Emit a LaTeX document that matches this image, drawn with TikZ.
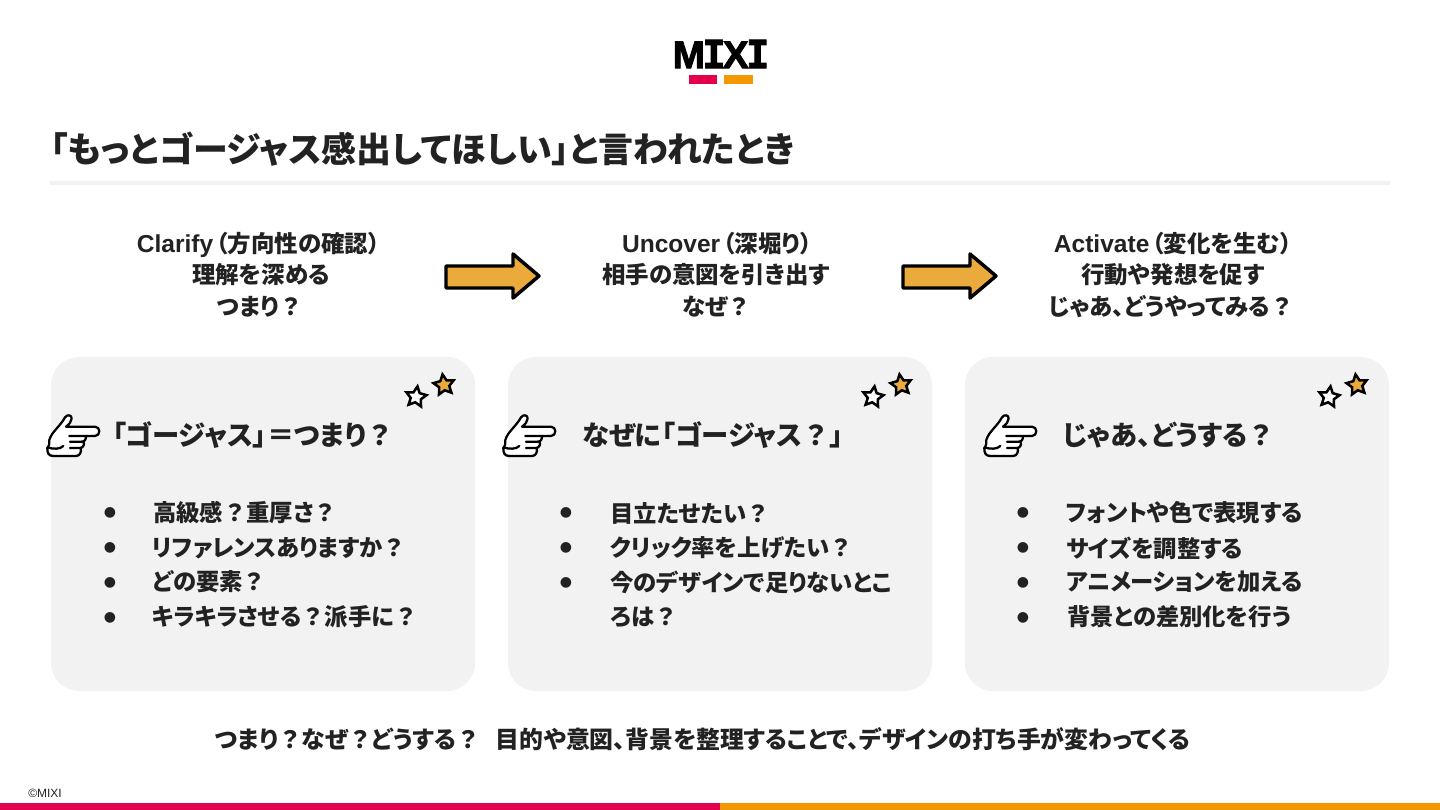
\documentclass[tikz,border=0pt]{standalone}
\usepackage{fontspec}
\usetikzlibrary{shapes.geometric}
\setmainfont{Noto Sans CJK JP}[RawFeature={+palt}]
\newfontfamily\plainf{Noto Sans CJK JP}
\newfontfamily\logosans{Liberation Sans}[BoldFeatures={FakeBold=2.5}]
\newfontfamily\logomono{DejaVu Sans Mono}[BoldFeatures={FakeBold=2.5}]
\newfontfamily\latinf{Liberation Sans}
\newfontfamily\symf{DejaVu Sans}
\definecolor{ink}{HTML}{222222}
\definecolor{crimson}{HTML}{E5004F}
\definecolor{amber}{HTML}{F39800}
\definecolor{gold}{HTML}{EBAA3C}
\definecolor{cardgray}{HTML}{F2F2F2}
\newcommand{\fs}[1]{\fontsize{#1}{#1}\selectfont}
\newcommand{\Qm}{{\plainf\bfseries\char"FF1F\relax}}
\newcommand{\LP}{\kern.12em{\bfseries\char"FF08\relax}}
\newcommand{\RP}{{\bfseries\char"FF09\relax}}
\newcommand{\EQ}{{\plainf\bfseries\char"FF1D\relax}}
\newcommand{\Lat}[1]{{\latinf\fs{18.4}\bfseries #1}}
\tikzset{
  x=0.75pt,y=-0.75pt,
  txt/.style={inner sep=0pt,text=ink,font=\bfseries},
  title/.style={txt,anchor=west,font=\fs{26.2}\bfseries},
  head/.style={txt,align=center,font=\fs{17.6}\bfseries,text depth=0pt},
  cardhead/.style={txt,anchor=west,font=\fs{20.5}\bfseries},
  item/.style={txt,anchor=west,font=\fs{17.5}\bfseries},
  foottext/.style={txt,anchor=west,font=\fs{17.9}\bfseries},
  dot/.style={inner sep=0pt,text=ink,font=\symf\fs{10.5}},
  card/.style={fill=cardgray,rounded corners=21pt},
  bigarrow/.style={fill=gold,draw=black,line width=2.6pt,line join=round},
  whitestar/.style={star,star points=5,star point ratio=2,draw=black,fill=white,line width=1.9pt,minimum size=16pt,inner sep=0pt,rotate=-8},
  goldstar/.style={star,star points=5,star point ratio=2,draw=black,fill=gold,line width=1.9pt,minimum size=16pt,inner sep=0pt,rotate=8},
  hand/.pic={
    \begin{scope}[x=0.25pt,y=-0.25pt,line width=1.7pt,line join=round,line cap=round]
      \fill[white] (52,265) .. controls (52,235) and (80,205) .. (105,165) -- (125,170) -- (122,198) -- (195,198) -- (208,214) -- (165,230) -- (160,262) -- (150,285) -- (70,288) -- cycle;
      \draw[black] (70,288) .. controls (55,288) and (52,278) .. (52,265)
        .. controls (52,262) and (60,258) .. (58,240)
        .. controls (65,215) and (90,200) .. (105,172)
        .. controls (112,162) and (125,165) .. (125,175)
        .. controls (125,185) and (118,192) .. (108,200)
        -- (195,200) .. controls (212,200) and (212,228) .. (195,228) -- (118,228);
      \draw[black] (168,228) .. controls (168,238) and (165,245) .. (155,245) -- (120,245);
      \draw[black] (160,245) .. controls (165,252) and (160,264) .. (150,264) -- (120,264);
      \draw[black] (152,264) .. controls (155,275) and (150,288) .. (138,288) -- (70,288);
      \draw[black] (52,262) .. controls (70,268) and (90,268) .. (100,258);
    \end{scope}
  }
}
\begin{document}
\begin{tikzpicture}
\useasboundingbox (0,0) rectangle (1440,810);
\fill[white] (0,0) rectangle (1440,810);

% logo
\node[inner sep=0pt,text=black] (logo) at (721,54) {\fs{29}\bfseries{\logosans M}\kern-2pt{\logomono I}\kern-2pt{\logosans X}\kern-2pt{\logomono I}};
\fill[crimson] (689,75) rectangle (717,84);
\fill[amber] (724,75) rectangle (753,84);

% title
\node[title] (titletext) at (50,149) {「もっとゴージャス感出してほしい」と言われたとき};
\fill[cardgray] (50,181) rectangle (1390,185);

% column headings
\node[head] (h1a) at (258.5,242) {\Lat{Clarify}\LP{}方向性の確認\RP{}};
\node[head] (h1b) at (261,273) {理解を深める};
\node[head] (h1c) at (260,305.5) {つまり\Qm{}};
\node[head] (h2a) at (717,242) {\Lat{Uncover}\LP{}深堀り\RP{}};
\node[head] (h2b) at (716,273) {相手の意図を引き出す};
\node[head] (h2c) at (717,305.5) {なぜ\Qm{}};
\node[head] (h3a) at (1173,242) {\Lat{Activate}\LP{}変化を生む\RP{}};
\node[head] (h3b) at (1173,273) {行動や発想を促す};
\node[head] (h3c) at (1171,305.5) {じゃあ、どうやってみる\Qm{}};

% arrows
\foreach \dx in {0,457}{
  \begin{scope}[xshift=\dx*0.75pt]
    \draw[bigarrow] (446,266) -- (513,266) -- (513,254) -- (539,276) -- (513,298) -- (513,288) -- (446,288) -- cycle;
  \end{scope}
}

% cards
\fill[card] (51,357) rectangle (475,691);
\fill[card] (508,357) rectangle (932,691);
\fill[card] (965,357) rectangle (1389,691);

% stars
\node[whitestar] (s1a) at (416,397) {};
\node[goldstar] (s1b) at (444,385) {};
\node[whitestar] (s2a) at (873,397) {};
\node[goldstar] (s2b) at (901,385) {};
\node[whitestar] (s3a) at (1329,397) {};
\node[goldstar] (s3b) at (1357,385) {};

% hands
\pic at (30,360) {hand};
\pic at (486,360) {hand};
\pic at (967,360) {hand};

% card headings
\node[cardhead] (c1) at (112,435) {「ゴージャス」\EQ{}つまり\Qm{}};
\node[cardhead] (c2) at (582,435) {なぜに「ゴージャス\Qm{}」};
\node[cardhead] (c3) at (1062,435) {じゃあ、どうする\Qm{}};

% card 1 list
\node[dot] (d11) at (110,513) {●};
\node[dot] (d12) at (110,548) {●};
\node[dot] (d13) at (110,583) {●};
\node[dot] (d14) at (110,618) {●};
\node[item] (i11) at (153,513) {高級感\Qm{}重厚さ\Qm{}};
\node[item] (i12) at (152,548) {リファレンスありますか\Qm{}};
\node[item] (i13) at (152,582) {どの要素\Qm{}};
\node[item] (i14) at (152,617) {キラキラさせる\Qm{}派手に\Qm{}};

% card 2 list
\node[dot] (d21) at (566,513) {●};
\node[dot] (d22) at (566,548) {●};
\node[dot] (d23) at (566,583) {●};
\node[item] (i21) at (610,513) {目立たせたい\Qm{}};
\node[item] (i22) at (610,548) {クリック率を上げたい\Qm{}};
\node[item] (i23) at (610,582) {今のデザインで足りないとこ};
\node[item] (i24) at (610,617) {ろは\Qm{}};

% card 3 list
\node[dot] (d31) at (1023,513) {●};
\node[dot] (d32) at (1023,548) {●};
\node[dot] (d33) at (1023,583) {●};
\node[dot] (d34) at (1023,618) {●};
\node[item] (i31) at (1066,513) {フォントや色で表現する};
\node[item] (i32) at (1066,548) {サイズを調整する};
\node[item] (i33) at (1066,582) {アニメーションを加える};
\node[item] (i34) at (1067,617) {背景との差別化を行う};

% footer
\node[foottext] (foot) at (215,739) {つまり\Qm{}なぜ\Qm{}どうする\Qm{}\hspace{0.65em}目的や意図、背景を整理することで、デザインの打ち手が変わってくる};
\node[inner sep=0pt,anchor=west,text=ink,font=\latinf\fs{9}] (copy) at (28,793) {©MIXI};
\fill[crimson] (0,803) rectangle (720,810);
\fill[amber] (720,803) rectangle (1440,810);
\end{tikzpicture}
\end{document}
